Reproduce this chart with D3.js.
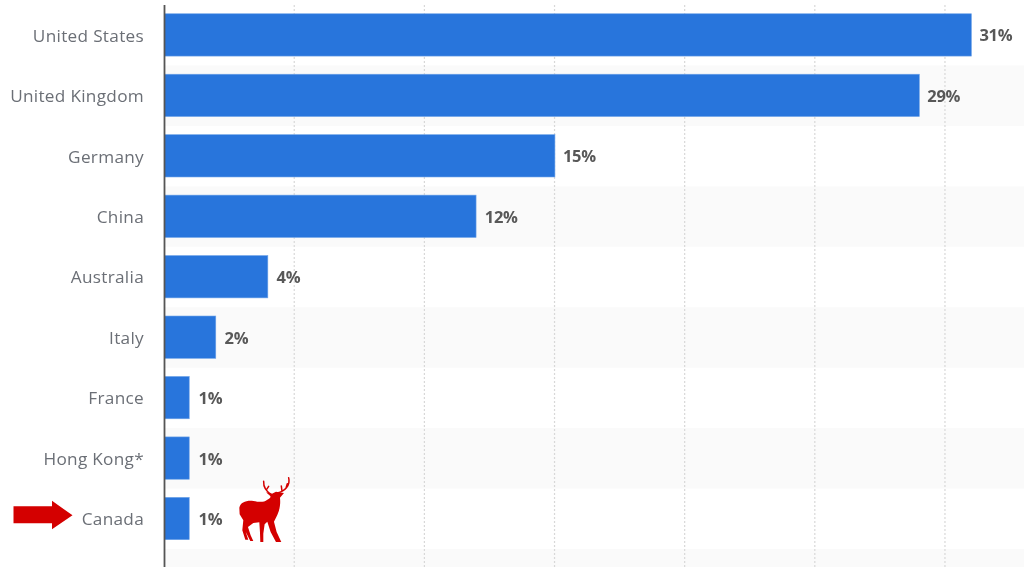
<!DOCTYPE html>
<html><head><meta charset="utf-8">
<script src="https://cdn.jsdelivr.net/npm/d3@7"></script>
<style>
html,body{margin:0;padding:0;background:#fff;overflow:hidden}
svg{display:block}
.soft{filter:blur(0.35px)}
</style></head><body>
<svg id="c" width="1024" height="567"></svg>
<script>
const categories=["United States","United Kingdom","Germany","China","Australia","Italy","France","Hong Kong*","Canada"];
const values=[31,29,15,11.97,3.97,1.97,0.95,0.95,0.95];
const valueLabels=["31%","29%","15%","12%","4%","2%","1%","1%","1%"];
const gridTicks=[5,10,15,20,25,30,35];
const highlightCategory="Canada";
const svg=d3.select("#c");
const x=d3.scaleLinear().domain([0,35]).range([164.5,1075.5]);
const step=60.45, top0=5;
const y=d3.scaleBand().domain(categories).range([top0,top0+step*categories.length]).paddingInner(0.3).paddingOuter(0.15);
// stripes
svg.append("g").selectAll("rect").data(d3.range(1,11,2)).join("rect")
  .attr("x",x(0)).attr("width",1024-x(0)).attr("y",i=>top0+i*step).attr("height",step).attr("fill","#fafafa");
// grid
svg.append("g").selectAll("line").data(gridTicks).join("line")
  .attr("x1",d=>x(d)-0.4).attr("x2",d=>x(d)-0.4).attr("y1",5).attr("y2",567)
  .attr("stroke","#d8d8d8").attr("stroke-width",1.2).attr("stroke-dasharray","2,2");
// bars
svg.append("g").selectAll("rect").data(values).join("rect")
  .attr("x",x(0)).attr("y",(d,i)=>y(categories[i])-0.3).attr("width",d=>x(d)-x(0)).attr("height",y.bandwidth())
  .attr("fill","#2875dc").attr("stroke","#6ea3e8").attr("stroke-width",0.6);
// axis line
svg.append("line").attr("x1",x(0)).attr("x2",x(0)).attr("y1",5).attr("y2",567).attr("stroke","#555").attr("stroke-width",1.8);
// category labels
svg.append("g").attr("class","soft").selectAll("text").data(categories).join("text")
  .attr("x",144).attr("y",d=>y(d)+y.bandwidth()/2+0.4).attr("dy","0.35em").attr("text-anchor","end")
  .attr("font-family","'Open Sans',sans-serif").attr("font-size",17.2).attr("letter-spacing",0.3).attr("fill","#6b6f76")
  .text(d=>d);
// value labels
svg.append("g").attr("class","soft").selectAll("text").data(values).join("text")
  .attr("x",d=>x(Math.round(d))+8).attr("y",(d,i)=>y(categories[i])+y.bandwidth()/2+0.4).attr("dy","0.35em")
  .attr("font-family","'Open Sans',sans-serif").attr("font-size",16.5).attr("font-weight",700).attr("letter-spacing",-0.3).attr("fill","#585858")
  .text((d,i)=>valueLabels[i]);
// annotation for the highlighted row
const cy=y(highlightCategory)+y.bandwidth()/2;
svg.append("path").attr("class","soft").attr("transform",`translate(0,${cy})`)
  .attr("d","M13.5,-12.5H52V-18L72.5,-3.5L52,10.5V4.5H13.5Z").attr("fill","#d40000");
const deer=svg.append("g").attr("class","soft").attr("transform",`translate(0,${cy-98.5}) scale(0.3333)`);
deer.append("path").attr("fill","#d40000").attr("d","M718,262 C722,246 738,240 760,242 C780,246 792,246 802,238 C810,234 814,230 810,226 L798,216 L816,220 L828,214 L852,218 L840,232 C842,250 840,266 832,284 L822,304 L830,335 L844,365 L828,365 L812,335 L802,304 L794,312 L790,340 L790,365 L781,365 L780,335 L778,306 L760,308 L744,320 L752,345 L760,362 L751,362 L737,334 L745,358 L736,358 L727,330 L730,300 L719,282 Z");
deer.append("path").attr("fill","none").attr("stroke","#d40000").attr("stroke-width",4.5).attr("stroke-linecap","round")
  .attr("d","M816,224 C800,215 790,200 791,183 M800,207 L806,198 M832,218 C855,212 872,195 866,172 M846,212 L844,197 M858,204 L862,190");
</script>
</body></html>
